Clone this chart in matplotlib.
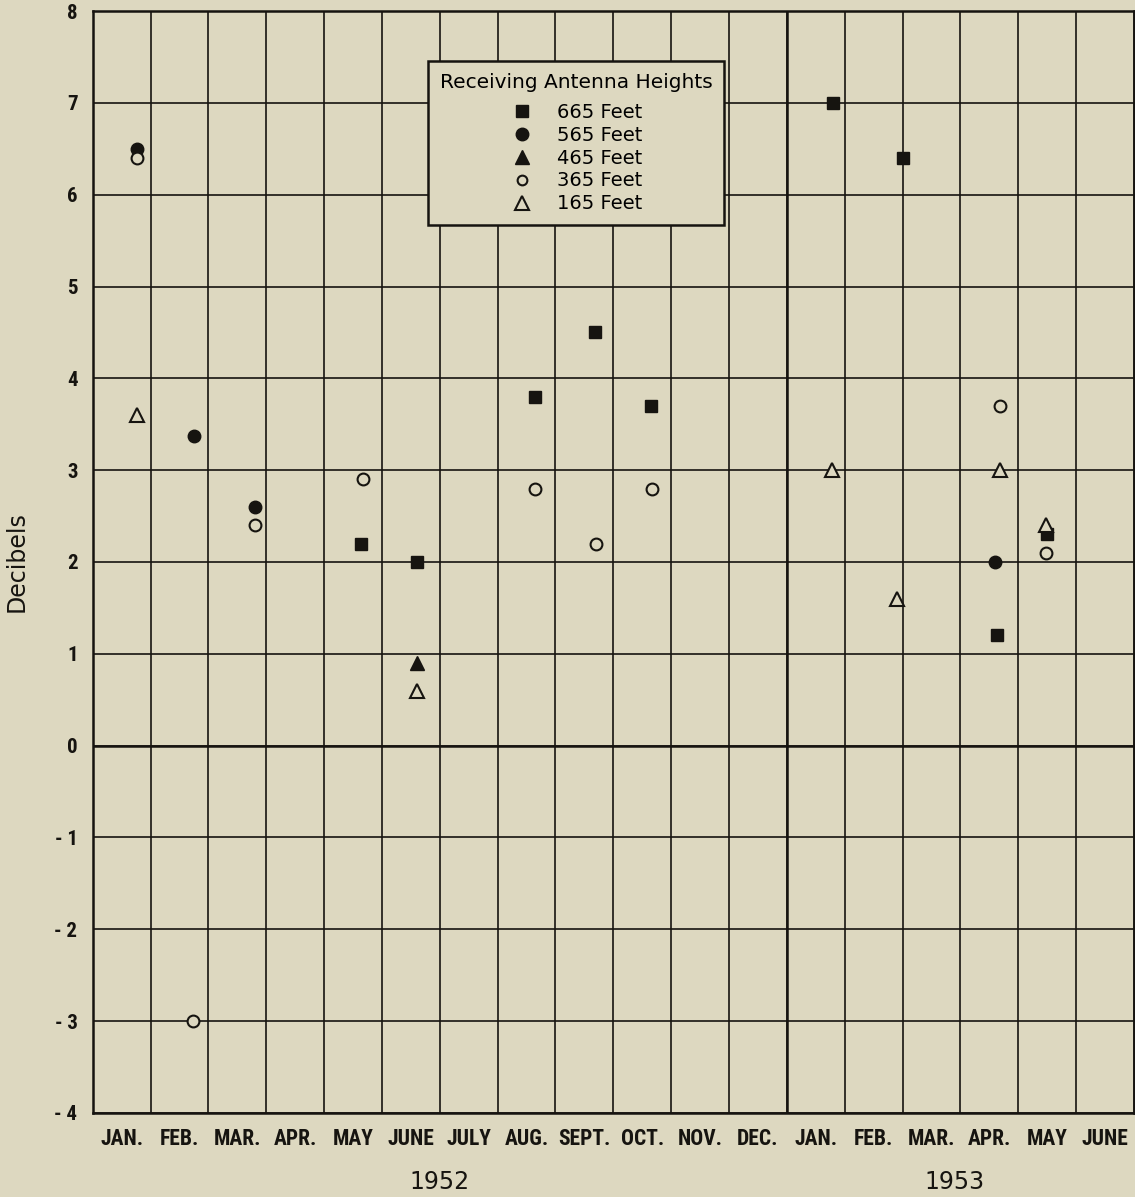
import matplotlib
matplotlib.use("Agg")
import matplotlib.pyplot as plt
from matplotlib.lines import Line2D

# month columns: 0 = Jan 1952 ... 17 = June 1953
months = ["JAN.", "FEB.", "MAR.", "APR.", "MAY", "JUNE", "JULY", "AUG.", "SEPT.",
          "OCT.", "NOV.", "DEC.", "JAN.", "FEB.", "MAR.", "APR.", "MAY", "JUNE"]
years = ["1952", "1953"]
year_pos = [6.0, 14.9]

y_ticks = [-4, -3, -2, -1, 0, 1, 2, 3, 4, 5, 6, 7, 8]
y_labels = ["- 4", "- 3", "- 2", "- 1", "0", "1", "2", "3", "4", "5", "6", "7", "8"]

# readings per receiving antenna height
ft665_x = [4.63, 5.61, 7.65, 8.69, 9.66, 12.79, 14.0, 15.63, 16.5]
ft665_y = [2.2, 2.0, 3.8, 4.5, 3.7, 7.0, 6.4, 1.2, 2.3]

ft565_x = [0.77, 1.75, 2.81, 15.6]
ft565_y = [6.5, 3.37, 2.6, 2.0]

ft465_x = [5.6]
ft465_y = [0.9]

ft365_x = [0.77, 1.74, 2.81, 4.68, 7.65, 8.7, 9.67, 15.68, 16.48]
ft365_y = [6.4, -3.0, 2.4, 2.9, 2.8, 2.2, 2.8, 3.7, 2.1]

ft165_x = [0.76, 5.6, 12.78, 13.91, 15.68, 16.48]
ft165_y = [3.6, 0.6, 3.0, 1.6, 3.0, 2.4]

bg = "#ddd8c0"
ink = "#161410"
narrow = ["Roboto Condensed", "Liberation Sans Narrow", "DejaVu Sans"]

fig = plt.figure(figsize=(11.35, 11.97), dpi=100, facecolor=bg)
ax = fig.add_axes([0.0817, 0.0702, 0.9173, 0.9206])
ax.set_facecolor(bg)

ax.set_xlim(0, 18)
ax.set_ylim(-4, 8)

ax.set_xticks([i + 0.5 for i in range(18)])
ax.set_xticklabels(months, family=narrow, fontsize=15.5, fontweight="bold", color=ink)
ax.set_xticks(range(19), minor=True)
ax.set_yticks(y_ticks)
ax.set_yticklabels(y_labels, family=narrow, fontsize=15, fontweight="bold", color=ink)
ax.tick_params(axis="both", which="both", length=0)
ax.tick_params(axis="x", pad=11)
ax.tick_params(axis="y", pad=11)

ax.grid(True, which="minor", axis="x", color=ink, lw=1.2)
ax.grid(True, which="major", axis="y", color=ink, lw=1.2)
ax.axvline(12, color=ink, lw=1.8)
ax.axhline(0, color=ink, lw=1.8)
for s in ax.spines.values():
    s.set_color(ink)
    s.set_linewidth(1.8)
ax.set_axisbelow(True)

ax.plot(ft665_x, ft665_y, "s", ms=8, color=ink, label="665 Feet")
ax.plot(ft565_x, ft565_y, "o", ms=9, color=ink, label="565 Feet")
ax.plot(ft465_x, ft465_y, "^", ms=9.5, color=ink, label="465 Feet")
ax.plot(ft365_x, ft365_y, "o", ms=8.5, mfc=bg, mec=ink, mew=1.5, label="365 Feet")
ax.plot(ft165_x, ft165_y, "^", ms=9.5, mfc=bg, mec=ink, mew=1.5, label="165 Feet")

ax.set_ylabel("Decibels", fontsize=17, color=ink)
ax.yaxis.set_label_coords(-0.062, 0.5)

for yr, xp in zip(years, year_pos):
    ax.text(xp, -0.063, yr, transform=ax.get_xaxis_transform(), ha="center",
            va="center", fontsize=17, color=ink)

handles = [
    Line2D([], [], ls="none", marker="s", ms=8, color=ink),
    Line2D([], [], ls="none", marker="o", ms=9, color=ink),
    Line2D([], [], ls="none", marker="^", ms=9.5, color=ink),
    Line2D([], [], ls="none", marker="o", ms=7, mfc=bg, mec=ink, mew=1.5),
    Line2D([], [], ls="none", marker="^", ms=9.5, mfc=bg, mec=ink, mew=1.5),
]
leg = ax.legend(handles, ["665 Feet", "565 Feet", "465 Feet", "365 Feet", "165 Feet"],
                title="Receiving Antenna Heights", loc="upper left",
                bbox_to_anchor=(0.322, 0.9546), fontsize=14, title_fontsize=14.5,
                frameon=True, fancybox=False, edgecolor=ink, facecolor=bg,
                framealpha=1, borderpad=0.6, labelspacing=0.2, handletextpad=1.2,
                borderaxespad=0, handlelength=1.2)
leg.get_frame().set_linewidth(1.8)
leg.set_zorder(5)
leg._legend_box.sep = 8

fig.savefig("out.png", dpi=100, facecolor=bg)
